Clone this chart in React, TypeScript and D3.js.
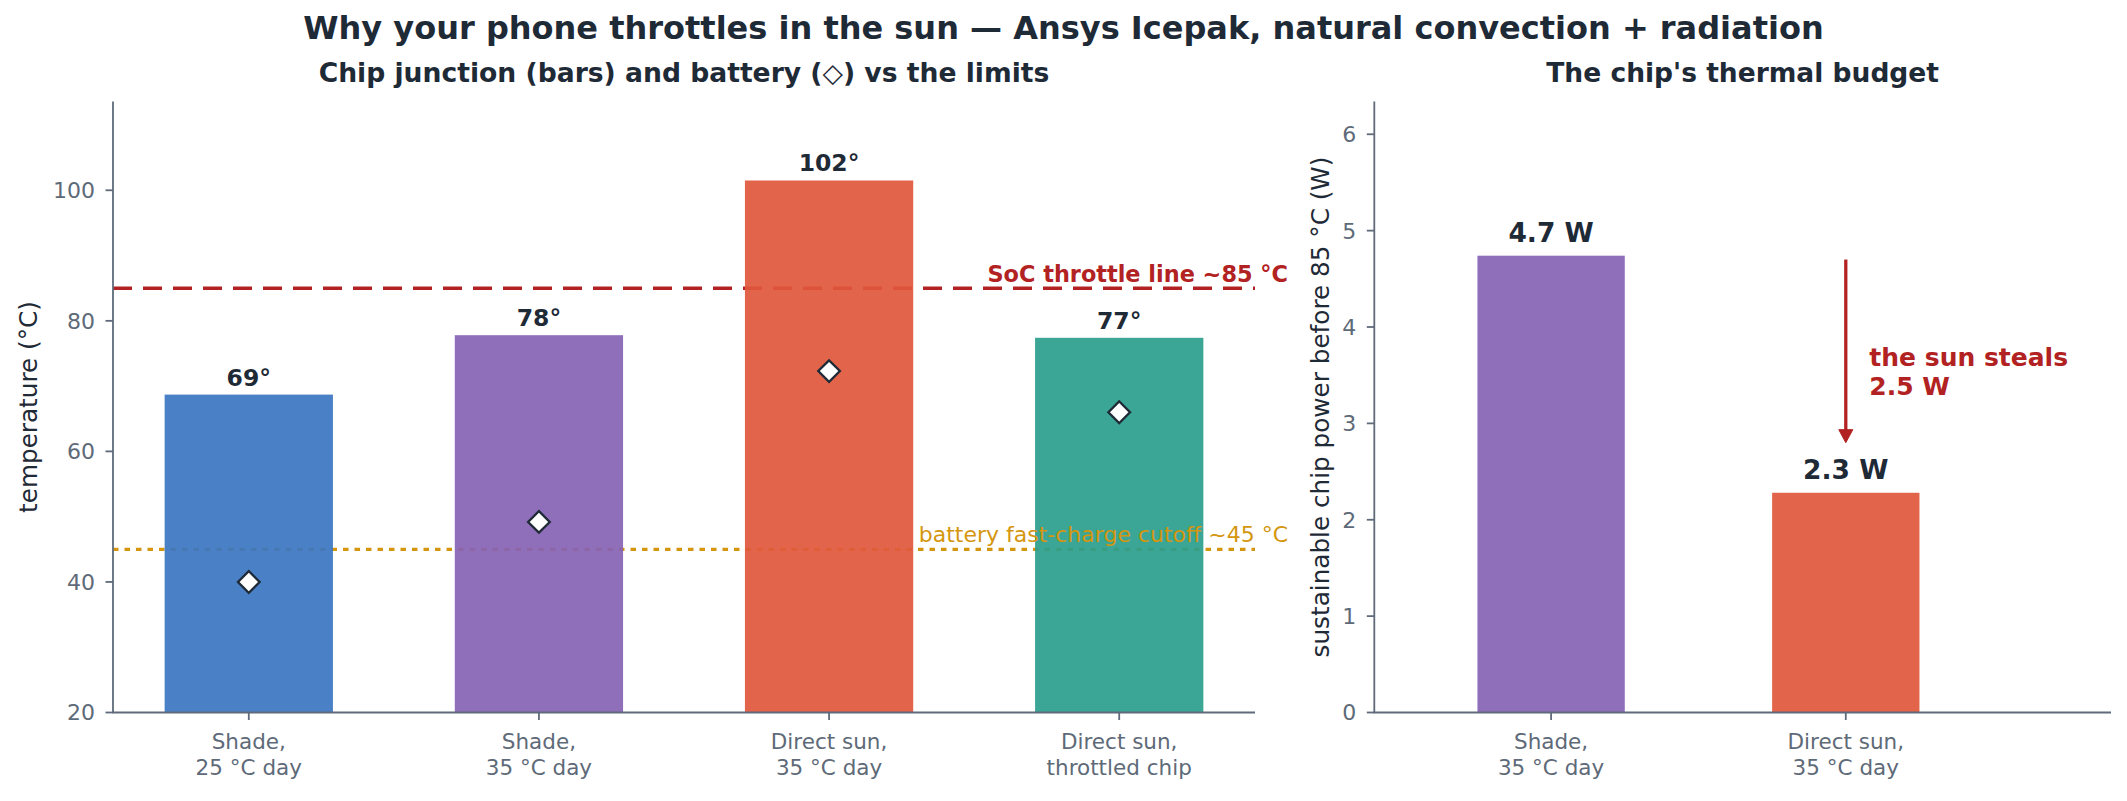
import React from "react";
import * as d3 from "d3";

// ---------- data ----------
const tempCategories = [
  "Shade,\n25 °C day",
  "Shade,\n35 °C day",
  "Direct sun,\n35 °C day",
  "Direct sun,\nthrottled chip",
];
const chipJunction = [68.7, 77.8, 101.5, 77.4];
const batteryTemp = [40.0, 49.2, 72.3, 66.0];
const tempColors = ["#3a75c1", "#8562b4", "#df583c", "#2a9d8d"];
const tempTicks = [20, 40, 60, 80, 100];
const throttleLimit = 85;
const batteryLimit = 45;

const powerCategories = ["Shade,\n35 °C day", "Direct sun,\n35 °C day"];
const sustainablePower = [4.74, 2.28];
const powerColors = ["#8562b4", "#df583c"];
const powerTicks = [0, 1, 2, 3, 4, 5, 6];
const sunArrow = [4.7, 2.8];

// ---------- style ----------
const FONT = "'DejaVu Sans', sans-serif";
const DARK = "#1f2a37";
const GRAY = "#5e6a78";
const SPINE = "#5f6b7a";
const RED = "#b22222";
const GOLD = "#d4960f";
const W = 2127;
const H = 801;
const TOP = 101.5;
const BASE = 712.5;

const xL = d3.scaleLinear().domain([-0.468, 3.468]).range([113, 1255]);
const yL = d3.scaleLinear().domain([20, 113.6]).range([BASE, TOP]);
const xR = d3.scaleLinear().domain([-0.6, 1.9]).range([1374.3, 2111]);
const yR = d3.scaleLinear().domain([0, 6.34]).range([BASE, TOP]);

const diamond = d3.symbol().type(d3.symbolSquare).size(235)();

function XTickLabels({ cats, x }: { cats: string[]; x: (v: number) => number }) {
  return (
    <g>
      {cats.map((c, i) => (
        <g key={i}>
          <line x1={x(i)} x2={x(i)} y1={BASE} y2={BASE + 7.5} stroke={SPINE} strokeWidth={1.8} />
          <text x={x(i)} y={BASE + 36.5} textAnchor="middle" fontSize={21.5} fill={GRAY}>
            {c.split("\n").map((l, j) => (
              <tspan key={j} x={x(i)} dy={j === 0 ? 0 : 26.3}>
                {l}
              </tspan>
            ))}
          </text>
        </g>
      ))}
    </g>
  );
}

function YTicks({ ticks, y, x0 }: { ticks: number[]; y: (v: number) => number; x0: number }) {
  return (
    <g>
      {ticks.map((t) => (
        <g key={t}>
          <line x1={x0 - 7.5} x2={x0} y1={y(t)} y2={y(t)} stroke={SPINE} strokeWidth={1.8} />
          <text x={x0 - 18} y={y(t)} dy="0.36em" textAnchor="end" fontSize={22} fill={GRAY}>
            {t}
          </text>
        </g>
      ))}
    </g>
  );
}

export default function App() {
  const bwL = 0.58;
  const bwR = 0.5;
  const [xl0, xl1] = xL.range();
  const [xr0, xr1] = xR.range();
  const arrowX = xR(1);
  const tipY = yR(sunArrow[1]);
  const headLen = 13;
  const steal = (sustainablePower[0] - sustainablePower[1]).toFixed(1);

  return (
    <svg
      width={W}
      height={H}
      viewBox={`0 0 ${W} ${H}`}
      style={{ position: "absolute", left: 0, top: 0, background: "#fff" }}
      fontFamily={FONT}
    >
      <rect width={W} height={H} fill="#fff" />
      {/* titles */}
      <text x={W / 2} y={39} textAnchor="middle" fontSize={32} fontWeight="bold" fill={DARK}>
        Why your phone throttles in the sun — Ansys Icepak, natural convection + radiation
      </text>
      <text x={(xl0 + xl1) / 2} y={82} textAnchor="middle" fontSize={26.6} fontWeight="bold" fill={DARK}>
        Chip junction (bars) and battery (◇) vs the limits
      </text>
      <text x={(xr0 + xr1) / 2} y={82} textAnchor="middle" fontSize={26.5} fontWeight="bold" fill={DARK}>
        The chip's thermal budget
      </text>

      {/* ---------- left panel ---------- */}
      <line x1={xl0} x2={xl1} y1={yL(throttleLimit)} y2={yL(throttleLimit)} stroke={RED} strokeWidth={3.5} strokeDasharray="19 11" />
      <line x1={xl0} x2={xl1} y1={yL(batteryLimit)} y2={yL(batteryLimit)} stroke={GOLD} strokeWidth={3.2} strokeDasharray="5.5 6" />
      {chipJunction.map((v, i) => (
        <rect
          key={i}
          x={xL(i - bwL / 2)}
          width={xL(bwL) - xL(0)}
          y={yL(v)}
          height={BASE - yL(v)}
          fill={tempColors[i]}
          fillOpacity={0.92}
        />
      ))}
      {chipJunction.map((v, i) => (
        <text key={i} x={xL(i)} y={yL(v) - 9} textAnchor="middle" fontSize={23.5} fontWeight="bold" fill={DARK}>
          {Math.round(v)}°
        </text>
      ))}
      {batteryTemp.map((v, i) => (
        <path
          key={i}
          d={diamond as string}
          transform={`translate(${xL(i)},${yL(v)}) rotate(45)`}
          fill="#fff"
          stroke={DARK}
          strokeWidth={2.3}
        />
      ))}
      <text x={1288} y={yL(throttleLimit) - 6.5} textAnchor="end" fontSize={22.4} fontWeight="bold" fill={RED}>
        SoC throttle line ~{throttleLimit} °C
      </text>
      <text x={1288} y={yL(batteryLimit) - 7.5} textAnchor="end" fontSize={22} fill={GOLD}>
        battery fast-charge cutoff ~{batteryLimit} °C
      </text>
      <line x1={xl0} x2={xl0} y1={BASE} y2={TOP} stroke={SPINE} strokeWidth={1.8} />
      <line x1={xl0 - 0.9} x2={xl1} y1={BASE} y2={BASE} stroke={SPINE} strokeWidth={1.8} />
      <YTicks ticks={tempTicks} y={yL} x0={xl0} />
      <XTickLabels cats={tempCategories} x={xL} />
      <text
        transform={`translate(28.5,${(BASE + TOP) / 2}) rotate(-90)`}
        textAnchor="middle"
        dy="0.35em"
        fontSize={24.7}
        fill={DARK}
      >
        temperature (°C)
      </text>

      {/* ---------- right panel ---------- */}
      {sustainablePower.map((v, i) => (
        <rect
          key={i}
          x={xR(i - bwR / 2)}
          width={xR(bwR) - xR(0)}
          y={yR(v)}
          height={BASE - yR(v)}
          fill={powerColors[i]}
          fillOpacity={0.92}
        />
      ))}
      {sustainablePower.map((v, i) => (
        <text key={i} x={xR(i)} y={yR(v) - 14} textAnchor="middle" fontSize={26.5} fontWeight="bold" fill={DARK}>
          {v.toFixed(1)} W
        </text>
      ))}
      <line x1={arrowX} x2={arrowX} y1={yR(sunArrow[0])} y2={tipY - headLen + 1} stroke={RED} strokeWidth={3.3} />
      <path
        d={`M${arrowX - 7},${tipY - headLen} L${arrowX + 7},${tipY - headLen} L${arrowX},${tipY} Z`}
        fill={RED}
        stroke={RED}
        strokeWidth={1}
        strokeLinejoin="round"
      />
      <text x={xR(1.08)} y={yR(3.5) - 9.5} fontSize={25} fontWeight="bold" fill={RED}>
        <tspan x={xR(1.08)}>the sun steals</tspan>
        <tspan x={xR(1.08)} dy={29.5}>
          {steal} W
        </tspan>
      </text>
      <line x1={xr0} x2={xr0} y1={BASE} y2={TOP} stroke={SPINE} strokeWidth={1.8} />
      <line x1={xr0 - 0.9} x2={xr1} y1={BASE} y2={BASE} stroke={SPINE} strokeWidth={1.8} />
      <YTicks ticks={powerTicks} y={yR} x0={xr0} />
      <XTickLabels cats={powerCategories} x={xR} />
      <text
        transform={`translate(1320,${(BASE + TOP) / 2}) rotate(-90)`}
        textAnchor="middle"
        dy="0.35em"
        fontSize={24.7}
        fill={DARK}
      >
        sustainable chip power before 85 °C (W)
      </text>
    </svg>
  );
}
